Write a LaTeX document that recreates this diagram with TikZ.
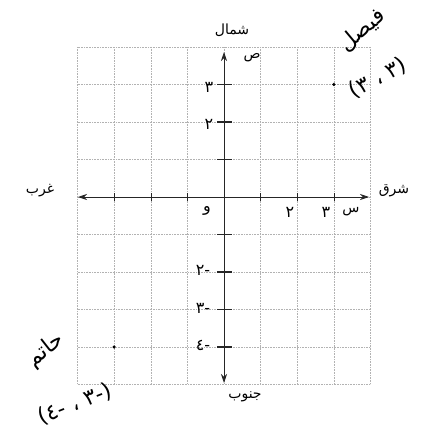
\documentclass[tikz,border=0pt]{standalone}
\usepackage{fontspec}
\newfontfamily\arabicfont[Script=Arabic]{DejaVu Sans}
\newfontfamily\latinfont{DejaVu Sans}
\TeXXeTstate=1
\usetikzlibrary{arrows.meta}
\tikzset{
  gridline/.style={gray!60, densely dotted, line width=0.6pt},
  axisline/.style={black!85, line width=0.8pt, {Stealth[length=9pt,width=6pt]}-{Stealth[length=9pt,width=6pt]}},
  ytick/.style={black!85, line width=1.6pt},
  xtick/.style={black!85, line width=0.6pt},
  lab/.style={font=\arabicfont\fontsize{14}{15}\selectfont, inner sep=0.5pt},
  num/.style={font=\arabicfont\fontsize{16}{17}\selectfont, inner sep=0.5pt},
  hand/.style={font=\arabicfont\fontsize{22}{24}\selectfont, inner sep=0pt},
  dotpt/.style={fill=black, circle, inner sep=0pt, minimum size=3.5pt}
}
\newcommand{\lp}{{\latinfont(}}
\newcommand{\rp}{{\latinfont)}}
\begin{document}
\begin{tikzpicture}[x=1pt,y=-1pt]
\useasboundingbox (0,0) rectangle (424,441);
% grid
\foreach \i in {-4,...,4} \draw[gridline] ({224+36.6*\i},47) -- ({224+36.6*\i},384.5);
\foreach \j in {-4,...,5} \draw[gridline] (77.6,{197+37.5*\j}) -- (370.4,{197+37.5*\j});
% axes
\coordinate (W) at (78,197);
\coordinate (E) at (369,197);
\coordinate (N) at (224,52);
\coordinate (S) at (224,383);
\draw[axisline] (W) -- (E);
\draw[axisline] (N) -- (S);
% ticks
\foreach \j in {-3,-2,-1,1,2,3,4} \draw[ytick] (217,{197+37.5*\j}) -- (232,{197+37.5*\j});
\foreach \i in {-3,-2,-1,1,2,3} \draw[xtick] ({224+36.6*\i},193) -- ({224+36.6*\i},201);
% axis names
\node[lab] (east) at (394,191) {\beginR شرق\endR};
\node[lab] (west) at (40,191) {\beginR غرب\endR};
\node[lab] (north) at (232,30) {\beginR شمال\endR};
\node[lab] (south) at (245,397) {\beginR جنوب\endR};
\node[lab] (ylab) at (252,58) {\beginR ص\endR};
\node[lab] (xlab) at (351,212) {\beginR س\endR};
% numbers
\node[num] (o) at (207,211) {\beginR و\endR};
\node[num] (x2) at (290,212) {٢};
\node[num] (x3) at (326,212) {٣};
\node[num] (y3) at (209,87) {٣};
\node[num] (y2) at (209,124) {٢};
\node[num] (ym2) at (203,270) {\beginR -٢\endR};
\node[num] (ym3) at (203,308) {\beginR -٣\endR};
\node[num] (ym4) at (203,345) {\beginR -٤\endR};
% points
\node[dotpt] (P) at (333.8,84.5) {};
\node[dotpt] (Q) at (114.2,347) {};
\node[hand, rotate=40] (pn) at (362,30) {\beginR فيصل\endR};
\node[hand, rotate=28] (pc) at (378,78) {\lp\beginR ٣ ، ٣\endR\rp};
\node[hand, rotate=38] (qn) at (46,350) {\beginR حاتم\endR};
\node[hand, rotate=22] (qc) at (75,404) {\lp\beginR -٣ ، -٤\endR\rp};
\end{tikzpicture}
\end{document}
